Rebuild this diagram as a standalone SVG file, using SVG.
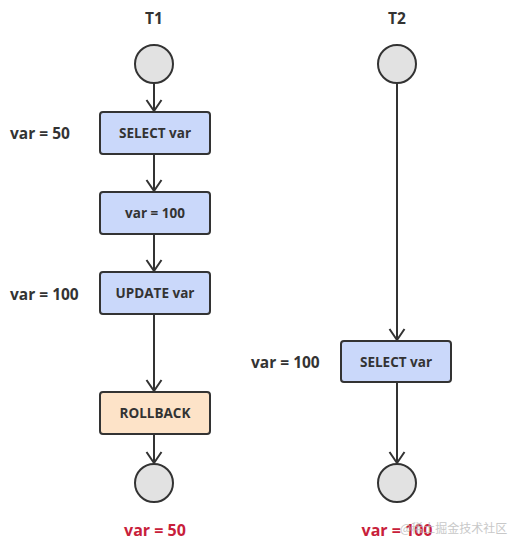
<svg xmlns="http://www.w3.org/2000/svg" width="508" height="549" viewBox="0 0 508 549">
<defs>
<marker id="arr" viewBox="0 0 14 18" markerWidth="14" markerHeight="18" refX="12" refY="9" orient="auto" markerUnits="userSpaceOnUse">
<path d="M1,1.5 L12,9 L1,16.5" fill="none" stroke="#333" stroke-width="2"/>
</marker>
<style>
.box{stroke:#333;stroke-width:2;}
.blue{fill:#cad8fa;}
.orange{fill:#fde3c8;}
.circ{fill:#e2e2e2;stroke:#333;stroke-width:2;}
.bt{font-family:"Open Sans","Liberation Sans",sans-serif;font-weight:bold;font-size:13.5px;fill:#333;text-anchor:middle;}
.lbl{font-family:"Open Sans","Liberation Sans",sans-serif;font-weight:bold;font-size:15.5px;fill:#333;}
.red{font-family:"Open Sans","Liberation Sans",sans-serif;font-weight:bold;font-size:16px;fill:#c8203a;text-anchor:middle;}
.edge{stroke:#333;stroke-width:2;fill:none;marker-end:url(#arr);}
</style>
</defs>
<rect width="508" height="549" fill="#fff"/>
<text class="lbl" x="154" y="24" text-anchor="middle">T1</text>
<text class="lbl" x="397" y="24" text-anchor="middle">T2</text>
<g id="connectors">
<line class="edge" x1="154" y1="83" x2="154" y2="111"/>
<line class="edge" x1="154" y1="154" x2="154" y2="191"/>
<line class="edge" x1="154" y1="234" x2="154" y2="271"/>
<line class="edge" x1="154" y1="314" x2="154" y2="391"/>
<line class="edge" x1="154" y1="434" x2="154" y2="463"/>
<line class="edge" x1="397" y1="83" x2="397" y2="340"/>
<line class="edge" x1="397" y1="382" x2="397" y2="463"/>
</g>
<g id="t1-start"><circle class="circ" cx="154" cy="64" r="19"/></g>
<g id="t1-select"><rect class="box blue" x="100" y="112" width="110" height="42" rx="3"/><text class="bt" x="155" y="138">SELECT var</text></g>
<g id="t1-set"><rect class="box blue" x="100" y="192" width="110" height="42" rx="3"/><text class="bt" x="155" y="218">var = 100</text></g>
<g id="t1-update"><rect class="box blue" x="100" y="272" width="110" height="42" rx="3"/><text class="bt" x="155" y="298">UPDATE var</text></g>
<g id="t1-rollback"><rect class="box orange" x="100" y="392" width="110" height="42" rx="3"/><text class="bt" x="155" y="418">ROLLBACK</text></g>
<g id="t1-end"><circle class="circ" cx="154" cy="483" r="19"/></g>
<g id="t2-start"><circle class="circ" cx="397" cy="64" r="19"/></g>
<g id="t2-select"><rect class="box blue" x="341" y="341" width="110" height="41" rx="3"/><text class="bt" x="396" y="367">SELECT var</text></g>
<g id="t2-end"><circle class="circ" cx="397" cy="483" r="19"/></g>
<text class="lbl" x="10" y="139">var = 50</text>
<text class="lbl" x="10" y="300">var = 100</text>
<text class="lbl" x="251" y="368">var = 100</text>
<text class="red" x="155" y="536">var = 50</text>
<text class="red" x="397" y="536">var = 100</text>
<text x="400" y="533" font-family="'Noto Sans CJK SC',sans-serif" font-size="12" fill="#bbb" opacity="0.8">@稀土掘金技术社区</text>
</svg>
